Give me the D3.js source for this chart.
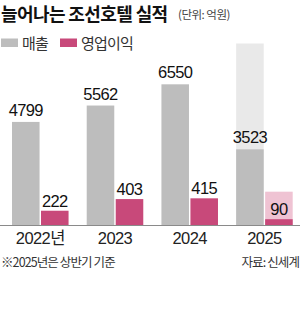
<!DOCTYPE html>
<html><head><meta charset="utf-8">
<script src="https://cdn.jsdelivr.net/npm/d3@7"></script>
<style>body{margin:0;background:#fff;} svg{display:block;}</style>
</head><body>
<script>
const years = ["2022", "2023", "2024", "2025"];
const yearLabels = ["2022년", "2023", "2024", "2025"];
const revenue = [4799, 5562, 6550, 3523];
const opProfit = [222, 403, 415, 90];
const ghostRevenue = [null, null, null, 8450];
const ghostProfit = [null, null, null, 518];

const W = 300, H = 323, base = 225;
const svg = d3.select("body").append("svg").attr("width", W).attr("height", H);
const numFont = "'Liberation Sans', Arial, 'Noto Sans CJK KR', sans-serif";
const krFont = "'Noto Sans CJK KR', sans-serif";

const x = d3.scaleBand().domain(years).range([12, 292.7]).paddingInner(0.243).paddingOuter(0);
const xi = d3.scaleBand().domain(["rev", "op"]).range([0, x.bandwidth()]).paddingInner(0.05);
const yRev = d3.scaleLinear().domain([0, 10000]).range([base, base - 214.8]);
const yOp = d3.scaleLinear().domain([0, 3340]).range([base, base - 214.8]);

// title
svg.append("text").attr("x", 1).attr("y", 21).attr("font-family", krFont).attr("font-weight", 700)
  .attr("font-size", 18).attr("fill", "#111").attr("letter-spacing", -0.6).text("늘어나는 조선호텔 실적");
svg.append("text").attr("x", 178).attr("y", 19).attr("font-family", krFont)
  .attr("font-size", 11.5).attr("fill", "#444").attr("letter-spacing", -0.5).text("(단위: 억원)");

// legend
const legend = [{t: "매출", c: "#bdbdbd", x: 1}, {t: "영업이익", c: "#c8497a", x: 60}];
legend.forEach(l => {
  svg.append("rect").attr("x", l.x).attr("y", 38.5).attr("width", 17).attr("height", 8.5).attr("fill", l.c);
  svg.append("text").attr("x", l.x + 21).attr("y", 48.5).attr("font-family", krFont)
    .attr("font-size", 15).attr("fill", "#333").attr("letter-spacing", -0.8).text(l.t);
});

const data = years.map((y, i) => ({y, label: yearLabels[i], rev: revenue[i], op: opProfit[i], gRev: ghostRevenue[i], gOp: ghostProfit[i]}));
const g = svg.selectAll("g.grp").data(data).join("g").attr("class", "grp").attr("transform", d => `translate(${x(d.y)},0)`);

// ghost bars
g.filter(d => d.gRev != null).append("rect").attr("x", xi("rev")).attr("width", xi.bandwidth())
  .attr("y", d => yRev(d.gRev)).attr("height", d => base - yRev(d.gRev)).attr("fill", "#e9e9e9");
g.filter(d => d.gOp != null).append("rect").attr("x", xi("op")).attr("width", xi.bandwidth())
  .attr("y", d => yOp(d.gOp)).attr("height", d => base - yOp(d.gOp)).attr("fill", "#efc3d3");

// bars
g.append("rect").attr("x", xi("rev")).attr("width", xi.bandwidth())
  .attr("y", d => yRev(d.rev)).attr("height", d => base - yRev(d.rev)).attr("fill", "#bdbdbd");
g.append("rect").attr("x", xi("op")).attr("width", xi.bandwidth())
  .attr("y", d => yOp(d.op)).attr("height", d => base - yOp(d.op)).attr("fill", "#c8497a");

// value labels
g.append("text").attr("x", xi("rev") + xi.bandwidth() / 2).attr("y", d => yRev(d.rev) - 6)
  .attr("text-anchor", "middle").attr("font-family", numFont).attr("font-size", 16.5)
  .attr("letter-spacing", -0.6).attr("fill", "#111").text(d => d.rev);
g.append("text").attr("x", xi("op") + xi.bandwidth() / 2).attr("y", d => yOp(d.op) - 4)
  .attr("text-anchor", "middle").attr("font-family", numFont).attr("font-size", 16.5)
  .attr("letter-spacing", -0.6).attr("fill", "#111").text(d => d.op);

// baseline
svg.append("line").attr("x1", 0).attr("x2", W).attr("y1", base + 0.5).attr("y2", base + 0.5)
  .attr("stroke", "#8a8a8a").attr("stroke-width", 1.2);

// x axis labels
g.append("text").attr("x", x.bandwidth() / 2).attr("y", 244).attr("text-anchor", "middle")
  .attr("font-family", numFont).attr("font-size", 16.5).attr("letter-spacing", -0.6).attr("fill", "#222")
  .text(d => d.label);

// footer
svg.append("text").attr("x", 1).attr("y", 267).attr("font-family", krFont).attr("font-size", 12.5)
  .attr("letter-spacing", -0.9).attr("fill", "#333").text("※2025년은 상반기 기준");
svg.append("text").attr("x", 299).attr("y", 267).attr("text-anchor", "end").attr("font-family", krFont)
  .attr("font-size", 12.5).attr("letter-spacing", -0.9).attr("fill", "#333").text("자료: 신세계");
</script>
</body></html>
